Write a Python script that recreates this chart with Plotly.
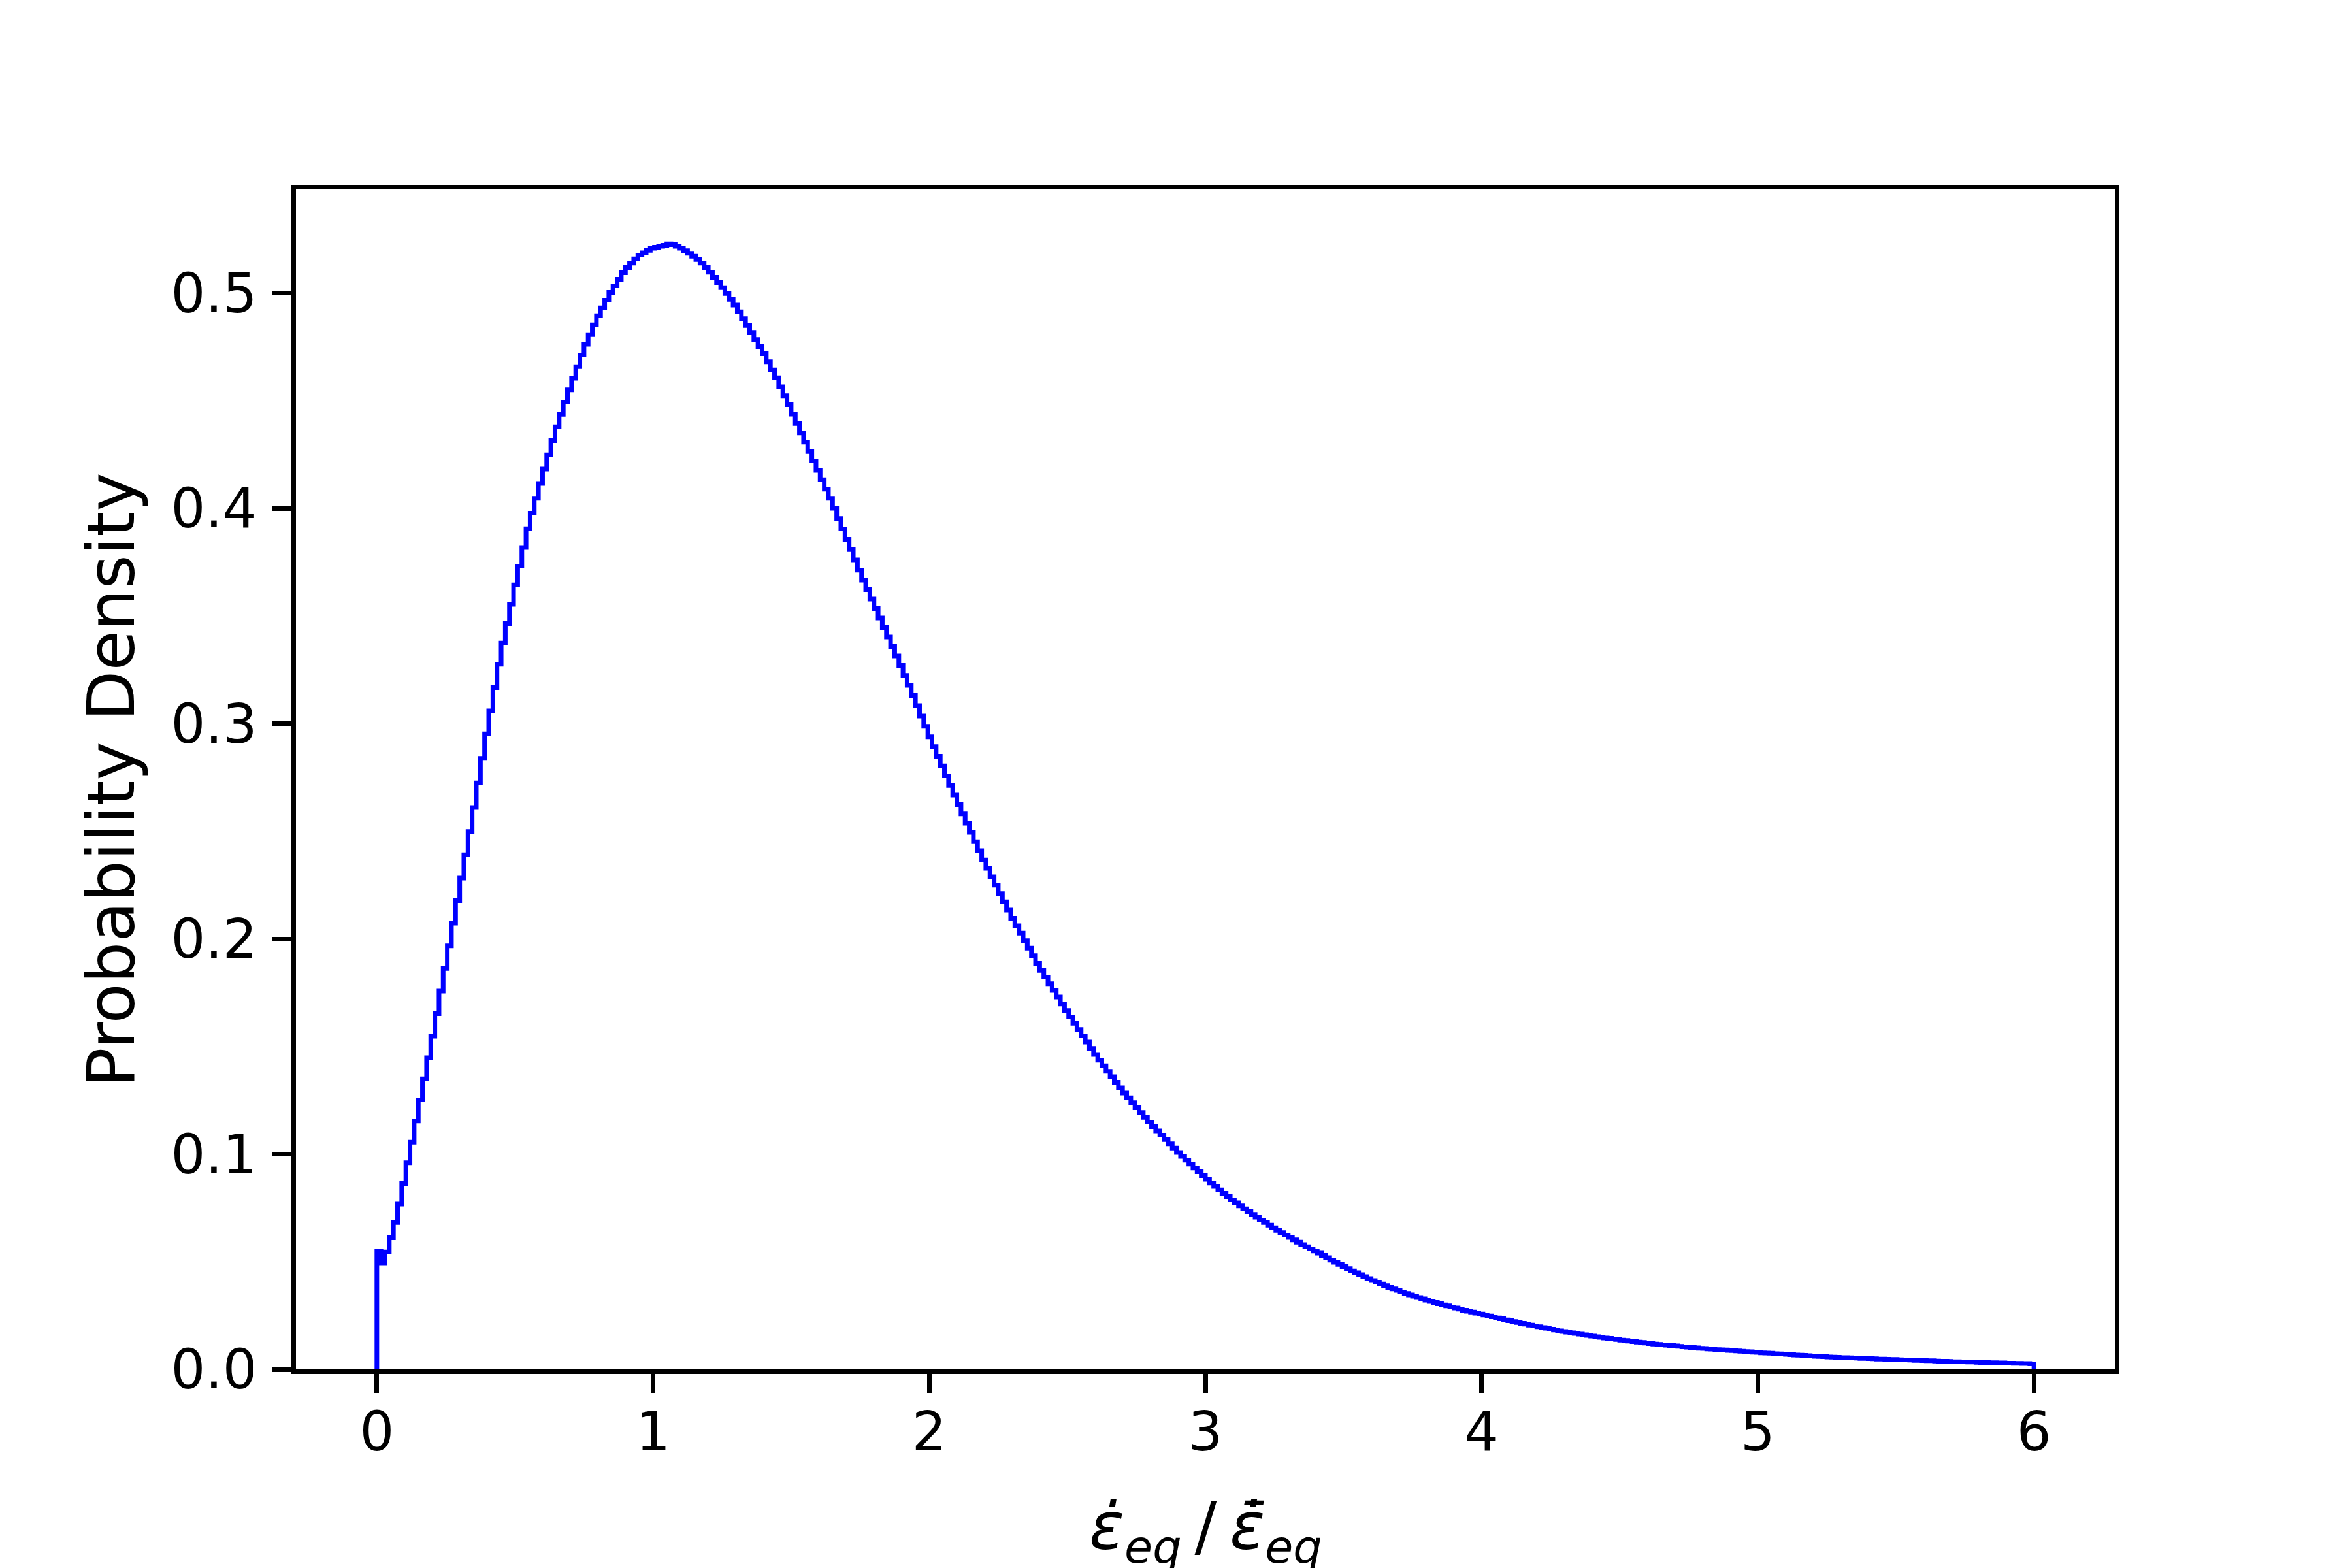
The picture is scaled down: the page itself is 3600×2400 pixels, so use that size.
import numpy as np
import plotly.graph_objects as go

# ---- data (histogram, density-normalised, 400 bins on [0, 6]) ----
bin_start = 0.0
bin_stop = 6.0
n_bins = 400

density = [
    0.0551, 0.0495, 0.0546, 0.0612, 0.0682, 0.0768, 0.0864, 0.0960, 0.1056, 0.1154,
    0.1252, 0.1350, 0.1448, 0.1548, 0.1653, 0.1758, 0.1863, 0.1968, 0.2073, 0.2178,
    0.2283, 0.2391, 0.2499, 0.2611, 0.2725, 0.2839, 0.2953, 0.3060, 0.3168, 0.3276,
    0.3375, 0.3465, 0.3555, 0.3645, 0.3732, 0.3819, 0.3906, 0.3978, 0.4047, 0.4116,
    0.4183, 0.4249, 0.4315, 0.4380, 0.4437, 0.4494, 0.4551, 0.4605, 0.4659, 0.4713,
    0.4763, 0.4808, 0.4853, 0.4896, 0.4932, 0.4968, 0.5004, 0.5035, 0.5065, 0.5095,
    0.5120, 0.5140, 0.5160, 0.5177, 0.5188, 0.5199, 0.5209, 0.5214, 0.5218, 0.5223,
    0.5230, 0.5226, 0.5218, 0.5209, 0.5198, 0.5186, 0.5172, 0.5157, 0.5140, 0.5120,
    0.5098, 0.5074, 0.5050, 0.5026, 0.4999, 0.4972, 0.4945, 0.4914, 0.4882, 0.4850,
    0.4818, 0.4785, 0.4752, 0.4719, 0.4682, 0.4644, 0.4607, 0.4566, 0.4524, 0.4482,
    0.4438, 0.4395, 0.4351, 0.4308, 0.4264, 0.4221, 0.4177, 0.4134, 0.4090, 0.4047,
    0.4001, 0.3953, 0.3905, 0.3857, 0.3809, 0.3761, 0.3713, 0.3667, 0.3623, 0.3579,
    0.3535, 0.3491, 0.3447, 0.3403, 0.3359, 0.3315, 0.3271, 0.3225, 0.3178, 0.3131,
    0.3084, 0.3036, 0.2988, 0.2939, 0.2894, 0.2849, 0.2804, 0.2758, 0.2713, 0.2668,
    0.2624, 0.2581, 0.2538, 0.2495, 0.2452, 0.2410, 0.2367, 0.2328, 0.2289, 0.2250,
    0.2211, 0.2173, 0.2134, 0.2096, 0.2061, 0.2027, 0.1992, 0.1957, 0.1922, 0.1887,
    0.1854, 0.1823, 0.1792, 0.1761, 0.1730, 0.1698, 0.1667, 0.1638, 0.1608, 0.1579,
    0.1550, 0.1521, 0.1491, 0.1463, 0.1437, 0.1411, 0.1385, 0.1360, 0.1334, 0.1308,
    0.1284, 0.1262, 0.1239, 0.1216, 0.1194, 0.1171, 0.1149, 0.1128, 0.1108, 0.1088,
    0.1068, 0.1048, 0.1028, 0.1008, 0.0990, 0.0972, 0.0954, 0.0936, 0.0918, 0.0900,
    0.0883, 0.0866, 0.0850, 0.0834, 0.0818, 0.0803, 0.0788, 0.0774, 0.0760, 0.0746,
    0.0733, 0.0720, 0.0707, 0.0694, 0.0682, 0.0670, 0.0658, 0.0646, 0.0635, 0.0624,
    0.0613, 0.0602, 0.0591, 0.0580, 0.0570, 0.0560, 0.0550, 0.0540, 0.0530, 0.0519,
    0.0508, 0.0498, 0.0488, 0.0478, 0.0468, 0.0458, 0.0449, 0.0440, 0.0431, 0.0422,
    0.0413, 0.0405, 0.0397, 0.0389, 0.0381, 0.0374, 0.0367, 0.0360, 0.0353, 0.0346,
    0.0340, 0.0334, 0.0328, 0.0322, 0.0316, 0.0311, 0.0305, 0.0300, 0.0295, 0.0290,
    0.0285, 0.0280, 0.0275, 0.0270, 0.0266, 0.0261, 0.0257, 0.0253, 0.0248, 0.0244,
    0.0239, 0.0235, 0.0230, 0.0226, 0.0222, 0.0218, 0.0214, 0.0210, 0.0206, 0.0202,
    0.0198, 0.0194, 0.0191, 0.0187, 0.0183, 0.0179, 0.0176, 0.0173, 0.0170, 0.0167,
    0.0164, 0.0161, 0.0158, 0.0155, 0.0152, 0.0149, 0.0146, 0.0144, 0.0141, 0.0139,
    0.0136, 0.0134, 0.0131, 0.0129, 0.0127, 0.0125, 0.0122, 0.0120, 0.0118, 0.0116,
    0.0114, 0.0112, 0.0111, 0.0109, 0.0107, 0.0105, 0.0103, 0.0102, 0.0100, 0.0098,
    0.0097, 0.0095, 0.0094, 0.0092, 0.0091, 0.0090, 0.0088, 0.0087, 0.0086, 0.0084,
    0.0083, 0.0082, 0.0080, 0.0079, 0.0077, 0.0076, 0.0075, 0.0073, 0.0072, 0.0071,
    0.0070, 0.0068, 0.0067, 0.0066, 0.0065, 0.0064, 0.0062, 0.0061, 0.0060, 0.0059,
    0.0058, 0.0057, 0.0056, 0.0055, 0.0055, 0.0054, 0.0053, 0.0052, 0.0051, 0.0051,
    0.0050, 0.0049, 0.0048, 0.0048, 0.0047, 0.0046, 0.0046, 0.0045, 0.0044, 0.0044,
    0.0043, 0.0042, 0.0042, 0.0041, 0.0040, 0.0040, 0.0039, 0.0038, 0.0038, 0.0037,
    0.0036, 0.0036, 0.0035, 0.0035, 0.0034, 0.0034, 0.0033, 0.0032, 0.0032, 0.0031,
    0.0031, 0.0030, 0.0030, 0.0029, 0.0029, 0.0028, 0.0028, 0.0027, 0.0027, 0.0026,
]

x_ticks = [0, 1, 2, 3, 4, 5, 6]
x_tick_labels = ["0", "1", "2", "3", "4", "5", "6"]
y_ticks = [0.0, 0.1, 0.2, 0.3, 0.4, 0.5]
y_tick_labels = ["0.0", "0.1", "0.2", "0.3", "0.4", "0.5"]

x_label = ("<i>\u03b5\u0307</i><sub><i>eq</i></sub>"
           "\u2009/\u2009"
           "<i>\u03b5\u0304\u0307</i><sub><i>eq</i></sub>")
y_label = "Probability Density"

# ---- build the step outline (like histtype='step') ----
edges = np.linspace(bin_start, bin_stop, n_bins + 1)
xs = np.concatenate([[edges[0]], edges])
ys = np.concatenate([[0.0], np.array(density), [0.0]])

# ---- geometry: spines (line centres) placed like the reference ----
W, H = 3592, 2392            # page body has an 8 px default margin
LW = 6.7                     # spine / tick width
sp_left, sp_right, sp_top, sp_bottom = 442, 3232, 279, 2088
inset = 3                    # plotly draws axis lines just outside the plot area
m_l = sp_left + inset
m_r = W - (sp_right - inset)
m_t = sp_top + inset
m_b = H - sp_bottom          # keep y = 0 exactly at the bottom edge

pad = 0.05 * (bin_stop - bin_start)
x_full = [bin_start - pad, bin_stop + pad]
y_top = 1.05 * max(density)
kx = (sp_right - sp_left) / (x_full[1] - x_full[0])
ky = (sp_bottom - sp_top) / y_top
x_range = [x_full[0] + inset / kx, x_full[1] - inset / kx]
y_range = [0.0, y_top - inset / ky]

FONT = "DejaVu Sans"

fig = go.Figure()
fig.add_trace(go.Scatter(
    x=xs, y=ys, mode="lines",
    line=dict(color="#0000ff", width=7, shape="hv"),
    hoverinfo="skip", showlegend=False,
))

axis_common = dict(
    showgrid=False, zeroline=False,
    showline=True, mirror=True, linecolor="black", linewidth=LW,
    ticks="outside", ticklen=29, tickwidth=LW, tickcolor="black",
    tickfont=dict(family=FONT, size=83, color="black"),
)

fig.update_xaxes(range=x_range, tickvals=x_ticks, ticktext=x_tick_labels,
                 ticklabelstandoff=-11, **axis_common)
fig.update_yaxes(range=y_range, tickvals=y_ticks, ticktext=y_tick_labels,
                 ticklabelstandoff=7, **axis_common)

fig.add_annotation(
    text=x_label, xref="paper", yref="paper", x=0.5, y=-0.137,
    xanchor="center", yanchor="middle", showarrow=False,
    font=dict(family=FONT, size=100, color="black"),
)
fig.add_annotation(
    text=y_label, xref="paper", yref="paper", x=-0.1017, y=0.5,
    xanchor="center", yanchor="middle", showarrow=False, textangle=-90,
    font=dict(family=FONT, size=100, color="black"),
)

fig.update_layout(
    width=W, height=H, autosize=False,
    margin=dict(l=m_l, r=m_r, t=m_t, b=m_b, pad=0),
    paper_bgcolor="white", plot_bgcolor="white",
    font=dict(family=FONT, color="black"),
)

fig.write_html("out.html")
